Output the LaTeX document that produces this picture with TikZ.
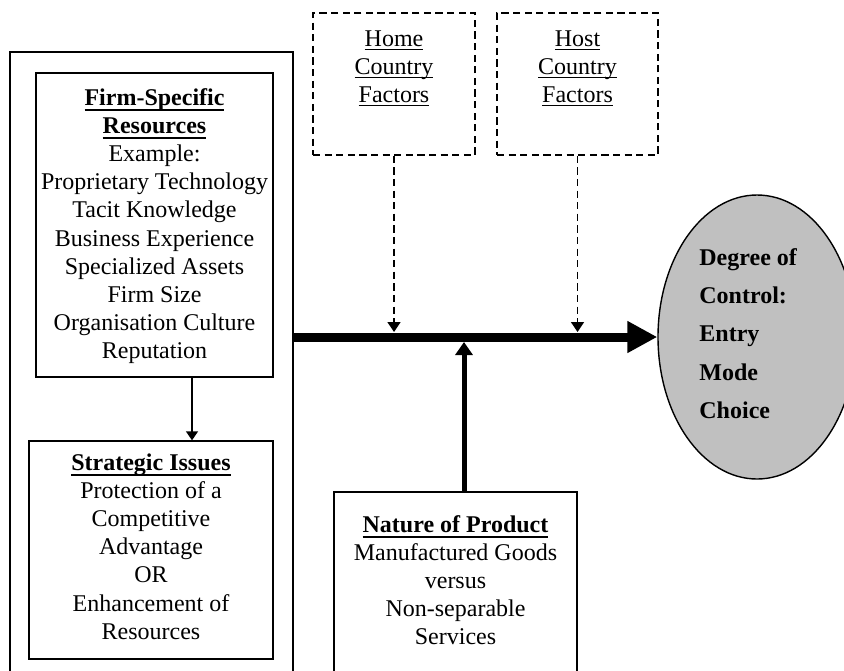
\documentclass[tikz,border=0pt]{standalone}
\usepackage{fontspec}
\setmainfont{Liberation Serif}
\usetikzlibrary{arrows.meta,shapes.geometric,calc}

\definecolor{ctrlgray}{RGB}{192,192,192}

% underlined headings with a fixed underline offset
\newcommand\ulreg[1]{\leavevmode\setbox0\hbox{#1}\rlap{\rule[-2pt]{\wd0}{0.6pt}}\box0}
\newcommand\ulbold[1]{\leavevmode\setbox0\hbox{\bfseries #1}\rlap{\rule[-2.8pt]{\wd0}{1pt}}\box0}
\newcommand\boxlines[2]{\parbox[t]{#1}{\centering\fontsize{12}{14.1}\selectfont #2}}

\tikzset{
  plainbox/.style={draw, line width=0.7pt, inner sep=0pt},
  dashbox/.style={plainbox, dash pattern=on 3.6pt off 2.2pt},
  boxtext/.style={inner sep=0pt, anchor=base},
  thinarrow/.style={line width=0.7pt, -{Triangle[length=4.5pt,width=6pt]}},
  dasharrow/.style={line width=0.7pt, dash pattern=on 3.6pt off 2.2pt, -{Triangle[length=5pt,width=6.5pt]}},
}

\begin{document}
\begin{tikzpicture}[x=0.5pt, y=-0.5pt]
\useasboundingbox (0,0) rectangle (844,670);
\clip (0,0) rectangle (844,670);

% frames
\node[plainbox, minimum width=141.5pt, minimum height=334pt] (outer) at (151.5,386) {};
\node[plainbox, minimum width=118.5pt, minimum height=152pt] (firm) at (154.5,225) {};
\node[plainbox, minimum width=122pt, minimum height=109pt] (strat) at (151,550) {};
\node[dashbox, minimum width=81pt, minimum height=71pt] (home) at (394,84) {};
\node[dashbox, minimum width=80.5pt, minimum height=71pt] (host) at (577.5,84) {};
\node[plainbox, minimum width=121.5pt, minimum height=114pt] (nature) at (455.5,606) {};
\node[ellipse, draw, fill=ctrlgray, line width=0.7pt, inner sep=0pt,
      minimum width=99pt, minimum height=142pt] (ctrl) at (757,337) {};

% texts
\node[boxtext] (firmtxt) at (154.5,105) {\boxlines{125pt}{\ulbold{Firm-Specific}\\\ulbold{Resources}\\Example:\\Proprietary Technology\\Tacit Knowledge\\Business Experience\\Specialized Assets\\Firm Size\\Organisation Culture\\Reputation}};
\node[boxtext] (strattxt) at (151,470) {\boxlines{125pt}{\ulbold{Strategic Issues}\\Protection of a\\Competitive\\Advantage\\OR\\Enhancement of\\Resources}};
\node[boxtext] (hometxt) at (394,46) {\boxlines{80pt}{\ulreg{Home}\\\ulreg{Country}\\\ulreg{Factors}}};
\node[boxtext] (hosttxt) at (577.5,46) {\boxlines{80pt}{\ulreg{Host}\\\ulreg{Country}\\\ulreg{Factors}}};
\node[boxtext] (naturetxt) at (455.5,532) {\boxlines{125pt}{\ulbold{Nature of Product}\\Manufactured Goods\\versus\\Non-separable\\Services}};
\node[inner sep=0pt, anchor=base west] (ctrltxt) at (699,265)
  {\parbox[t]{70pt}{\raggedright\bfseries\fontsize{12}{19.2}\selectfont Degree of\\Control:\\Entry\\Mode\\Choice}};

% connectors
\draw[line width=4.5pt, -{Triangle[length=15pt,width=15pt]}] (ctrl.west -| outer.east) -- (ctrl.west);
\draw[thinarrow] ($(firm.south)+(37.5,0)$) -- ($(firm.south |- strat.north)+(37.5,0)$);
\coordinate (homehit) at ($(home.south |- ctrl.west)+(0,-5)$);
\coordinate (hosthit) at ($(host.south |- ctrl.west)+(0,-5)$);
\draw[dasharrow] (home.south) -- (homehit);
\draw[dasharrow] (host.south) -- (hosthit);
\coordinate (naturehit) at ($(nature.north |- ctrl.west)+(8.5,5)$);
\draw[line width=2.5pt, -{Triangle[length=6.5pt,width=8.5pt]}] ($(nature.north)+(8.5,0)$) -- (naturehit);
\end{tikzpicture}
\end{document}
